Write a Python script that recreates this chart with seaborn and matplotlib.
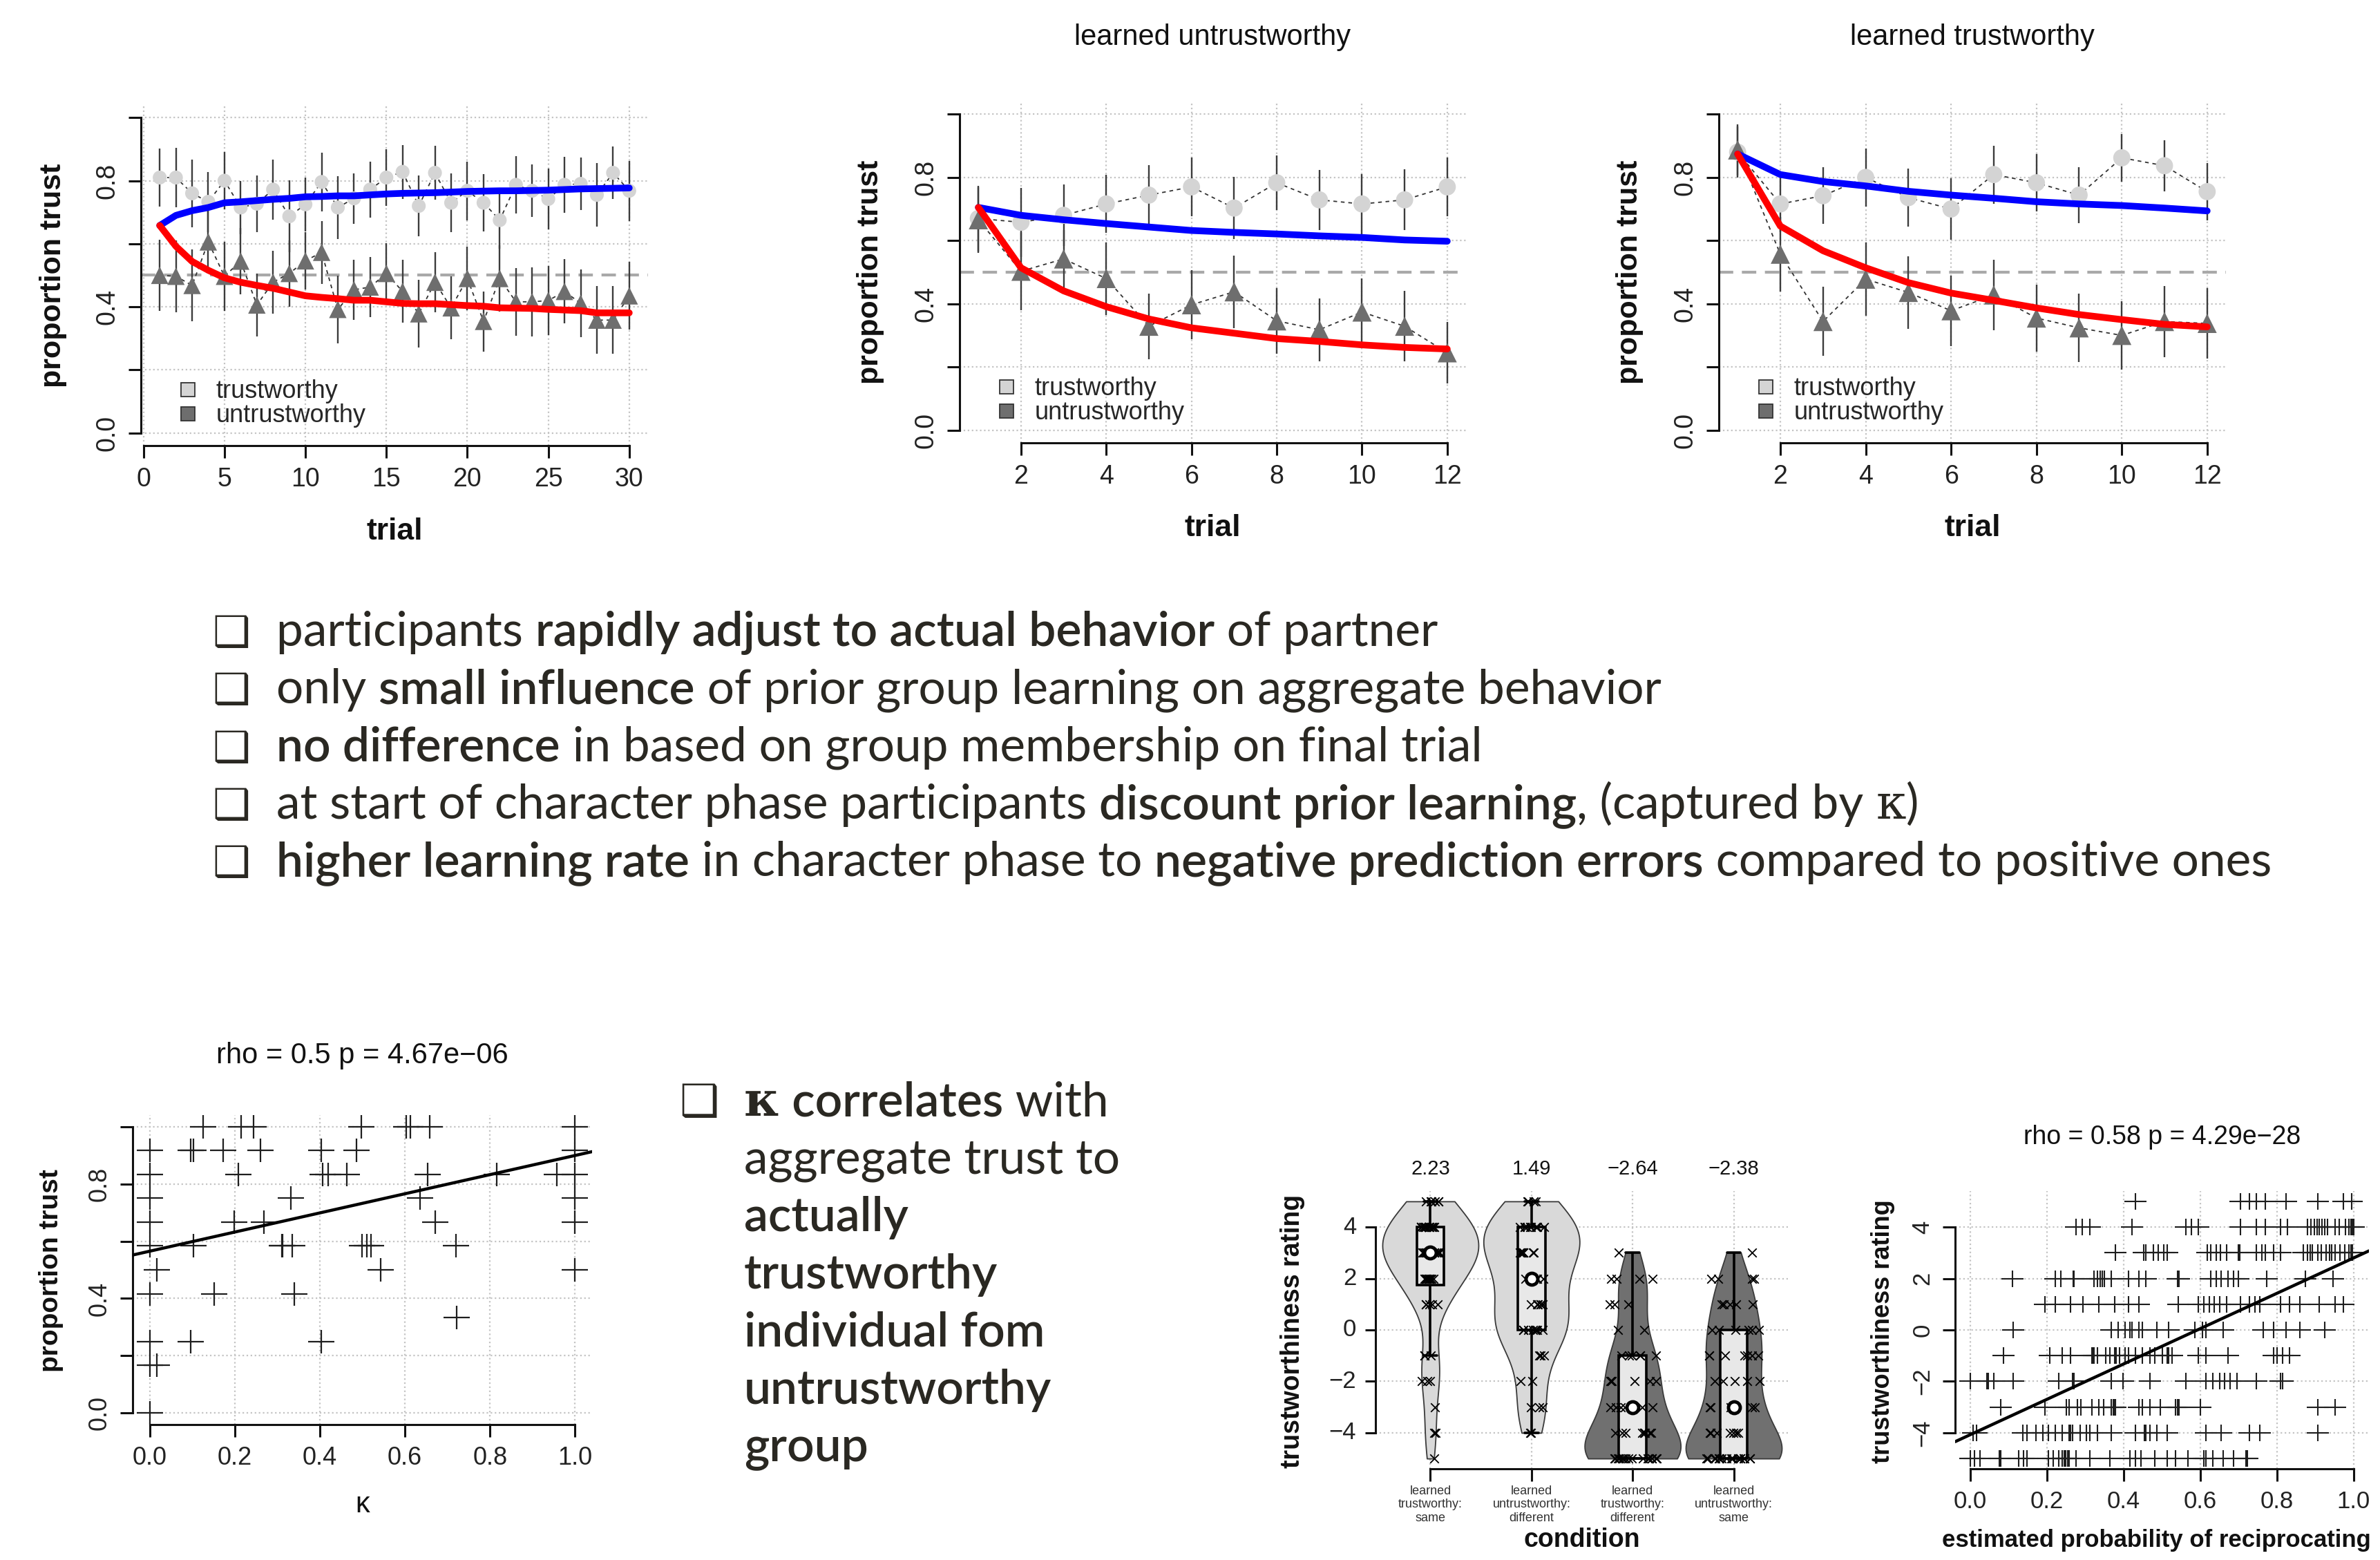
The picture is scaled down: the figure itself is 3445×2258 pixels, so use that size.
import numpy as np
import pandas as pd
import matplotlib
matplotlib.use("Agg")
import matplotlib.pyplot as plt
import matplotlib.transforms as mtransforms
from matplotlib.lines import Line2D
from matplotlib.path import Path
import seaborn as sns

# ---------------- data ----------------
# character phase, all 30 trials
trials_30 = list(range(1, 31))
trust_30 = [0.81, 0.81, 0.76, 0.733, 0.80, 0.715, 0.727, 0.772, 0.687, 0.725,
            0.796, 0.715, 0.744, 0.772, 0.81, 0.828, 0.72, 0.825, 0.73, 0.768,
            0.73, 0.675, 0.787, 0.768, 0.742, 0.787, 0.79, 0.755, 0.825, 0.768]
trust_30_err = [0.092, 0.095, 0.107, 0.095, 0.09, 0.085, 0.09, 0.095, 0.114, 0.085,
                0.093, 0.1, 0.08, 0.088, 0.09, 0.085, 0.097, 0.085, 0.093, 0.093,
                0.09, 0.09, 0.09, 0.083, 0.097, 0.088, 0.083, 0.1, 0.083, 0.095]
untrust_30 = [0.50, 0.497, 0.468, 0.606, 0.497, 0.545, 0.406, 0.478, 0.506, 0.546,
              0.573, 0.392, 0.454, 0.463, 0.506, 0.449, 0.378, 0.478, 0.397, 0.49,
              0.354, 0.49, 0.416, 0.416, 0.42, 0.449, 0.411, 0.358, 0.358, 0.435]
untrust_30_err = [0.112, 0.114, 0.114, 0.1, 0.11, 0.105, 0.1, 0.1, 0.105, 0.09,
                  0.1, 0.107, 0.095, 0.095, 0.095, 0.1, 0.107, 0.095, 0.1, 0.1,
                  0.095, 0.105, 0.107, 0.11, 0.11, 0.102, 0.107, 0.107, 0.107, 0.107]
model_trust_30 = [0.658, 0.69, 0.705, 0.715, 0.73, 0.733, 0.737, 0.741, 0.744, 0.749,
                  0.75, 0.752, 0.752, 0.755, 0.758, 0.76, 0.761, 0.762, 0.764, 0.766,
                  0.767, 0.768, 0.768, 0.769, 0.77, 0.772, 0.774, 0.775, 0.776, 0.777]
model_untrust_30 = [0.658, 0.592, 0.544, 0.516, 0.492, 0.478, 0.468, 0.459, 0.447, 0.435,
                    0.43, 0.426, 0.421, 0.421, 0.416, 0.411, 0.41, 0.41, 0.407, 0.404,
                    0.402, 0.397, 0.396, 0.395, 0.392, 0.39, 0.388, 0.381, 0.381, 0.381]

# 12 trials after learning the group
trials_12 = list(range(1, 13))
lu_trust = [0.67, 0.658, 0.68, 0.716, 0.744, 0.77, 0.703, 0.783, 0.729, 0.716, 0.729, 0.77]
lu_trust_err = [0.104, 0.109, 0.098, 0.092, 0.095, 0.092, 0.098, 0.087, 0.095, 0.095, 0.096, 0.092]
lu_untrust = [0.666, 0.503, 0.542, 0.48, 0.329, 0.397, 0.438, 0.346, 0.318, 0.374, 0.329, 0.245]
lu_untrust_err = [0.104, 0.123, 0.092, 0.115, 0.104, 0.109, 0.115, 0.104, 0.1, 0.106, 0.112, 0.098]
lu_model_trust = [0.705, 0.68, 0.666, 0.654, 0.643, 0.632, 0.626, 0.621, 0.615, 0.61, 0.602, 0.598]
lu_model_untrust = [0.705, 0.514, 0.441, 0.391, 0.352, 0.324, 0.307, 0.29, 0.281, 0.27, 0.262, 0.257]

lt_trust = [0.88, 0.716, 0.742, 0.80, 0.736, 0.70, 0.809, 0.783, 0.744, 0.862, 0.837, 0.755]
lt_trust_err = [0.081, 0.09, 0.09, 0.092, 0.092, 0.098, 0.092, 0.09, 0.088, 0.076, 0.081, 0.09]
lt_untrust = [0.887, 0.557, 0.344, 0.478, 0.436, 0.378, 0.428, 0.355, 0.324, 0.30, 0.344, 0.338]
lt_untrust_err = [0.081, 0.118, 0.109, 0.115, 0.115, 0.112, 0.112, 0.106, 0.109, 0.109, 0.112, 0.112]
lt_model_trust = [0.874, 0.809, 0.787, 0.773, 0.756, 0.744, 0.734, 0.723, 0.716, 0.711, 0.703, 0.694]
lt_model_untrust = [0.874, 0.646, 0.568, 0.514, 0.467, 0.434, 0.411, 0.387, 0.366, 0.35, 0.335, 0.327]

# kappa vs proportion trust (12 trials -> twelfths)
kappa_at_12 = [0.126, 0.215, 0.245, 0.497, 0.603, 0.613, 0.659, 1.0]
kappa_at_11 = [0.0, 0.096, 0.103, 0.173, 0.26, 0.404, 0.487, 1.0]
kappa_at_10 = [0.0, 0.209, 0.406, 0.419, 0.464, 0.654, 0.816, 0.957, 1.0]
kappa_at_9 = [0.0, 0.332, 0.636, 1.0]
kappa_at_8 = [0.0, 0.199, 0.268, 0.672, 1.0]
kappa_at_7 = [0.0, 0.103, 0.31, 0.313, 0.335, 0.499, 0.511, 0.521, 0.72]
kappa_at_6 = [0.017, 0.543, 1.0]
kappa_at_5 = [0.0, 0.151, 0.34]
kappa_at_4 = [0.722]
kappa_at_3 = [0.0, 0.096, 0.404]
kappa_at_2 = [0.0, 0.017]
kappa_at_0 = [0.0]
kappa_fit = (0.565, 0.334)          # intercept, slope
kappa_title = "rho = 0.5 p = 4.67e\u221206"

# trustworthiness ratings per condition
rating_levels = [5, 4, 3, 2, 1, 0, -1, -2, -3, -4, -5]
conditions = ["learned\ntrustworthy:\nsame", "learned\nuntrustworthy:\ndifferent",
              "learned\ntrustworthy:\ndifferent", "learned\nuntrustworthy:\nsame"]
counts_lt_same = [6, 14, 16, 9, 5, 0, 3, 3, 1, 2, 1]
counts_lu_diff = [4, 10, 9, 5, 6, 8, 3, 2, 3, 2, 0]
counts_lt_diff = [0, 0, 1, 4, 3, 2, 6, 6, 6, 9, 16]
counts_lu_same = [0, 0, 1, 4, 5, 6, 7, 5, 7, 8, 18]
rating_means = ["2.23", "1.49", "\u22122.64", "\u22122.38"]

# rating vs estimated probability of reciprocating
est_prob_r5 = [0.431, 0.705, 0.728, 0.746, 0.769, 0.824, 0.906, 0.974, 0.995]
est_prob_r4 = [0.276, 0.292, 0.312, 0.422, 0.563, 0.577, 0.595, 0.705, 0.746, 0.769, 0.81, 0.828,
               0.879, 0.889, 0.897, 0.904, 0.911, 0.917, 0.924, 0.932, 0.952, 0.963, 0.979, 0.988,
               0.993, 0.997, 1.0]
est_prob_r3 = [0.378, 0.452, 0.458, 0.477, 0.49, 0.504, 0.513, 0.618, 0.627, 0.641, 0.652, 0.668,
               0.70, 0.703, 0.746, 0.76, 0.769, 0.792, 0.81, 0.869, 0.879, 0.886, 0.892, 0.906,
               0.915, 0.929, 0.938, 0.942, 0.952, 0.965, 0.977, 0.988, 0.993, 0.997]
est_prob_r2 = [0.11, 0.221, 0.235, 0.269, 0.271, 0.323, 0.331, 0.338, 0.344, 0.349, 0.367, 0.413,
               0.44, 0.458, 0.541, 0.545, 0.627, 0.641, 0.655, 0.673, 0.687, 0.70, 0.774, 0.874, 0.947]
est_prob_r1 = [0.194, 0.221, 0.262, 0.294, 0.335, 0.376, 0.413, 0.44, 0.543, 0.595, 0.609, 0.623,
               0.637, 0.65, 0.668, 0.705, 0.728, 0.742, 0.755, 0.81, 0.833, 0.86, 0.911, 0.952, 0.974]
est_prob_r0 = [0.111, 0.367, 0.385, 0.404, 0.417, 0.422, 0.44, 0.449, 0.486, 0.518, 0.586, 0.605,
               0.614, 0.659, 0.764, 0.792, 0.824, 0.86, 0.924]
est_prob_rm1 = [0.087, 0.207, 0.239, 0.262, 0.317, 0.32, 0.323, 0.331, 0.353, 0.363, 0.376, 0.381,
                0.39, 0.404, 0.413, 0.431, 0.449, 0.468, 0.481, 0.50, 0.513, 0.518, 0.527, 0.595,
                0.614, 0.673, 0.792, 0.801, 0.815, 0.833]
est_prob_rm2 = [0.0, 0.043, 0.047, 0.061, 0.111, 0.23, 0.267, 0.271, 0.367, 0.399, 0.468, 0.563,
                0.614, 0.632, 0.65, 0.664, 0.678, 0.696, 0.746, 0.81, 0.815]
est_prob_rm3 = [0.079, 0.194, 0.25, 0.258, 0.28, 0.289, 0.317, 0.335, 0.347, 0.367, 0.372, 0.374,
                0.378, 0.44, 0.449, 0.468, 0.495, 0.536, 0.541, 0.545, 0.60, 0.906, 0.952]
est_prob_rm4 = [0.006, 0.016, 0.137, 0.148, 0.171, 0.189, 0.203, 0.221, 0.239, 0.258, 0.262, 0.267,
                0.287, 0.303, 0.312, 0.331, 0.367, 0.431, 0.454, 0.458, 0.468, 0.486, 0.513, 0.614,
                0.655, 0.728, 0.755, 0.906]
est_prob_rm5 = [0.0, 0.011, 0.025, 0.075, 0.079, 0.125, 0.139, 0.148, 0.203, 0.216, 0.23, 0.239,
                0.244, 0.248, 0.253, 0.258, 0.276, 0.312, 0.363, 0.417, 0.431, 0.445, 0.481, 0.513,
                0.536, 0.568, 0.609, 0.614, 0.632, 0.659, 0.687, 0.719, 0.723]
prob_fit = (-4.07, 6.87)
prob_title = "rho = 0.58 p = 4.29e\u221228"

# slide text
bullets_top = [
    [("participants ", "light"), ("rapidly adjust to actual behavior", "bold"), (" of partner", "light")],
    [("only ", "light"), ("small influence", "bold"), (" of prior group learning on aggregate behavior", "light")],
    [("no difference", "bold"), (" in based on group membership on final trial", "light")],
    [("at start of character phase participants ", "light"), ("discount prior learning", "bold"),
     (", (captured by ", "light"), ("\u03ba", "serif"), (")", "light")],
    [("higher learning rate", "bold"), (" in character phase to ", "light"),
     ("negative prediction errors", "bold"), (" compared to positive ones", "light")],
]
bullet_right = [
    [("\u03ba", "serifbold"), (" correlates", "bold"), (" with", "light")],
    [("aggregate trust to", "light")],
    [("actually", "bold")],
    [("trustworthy", "bold")],
    [("individual fom", "bold")],
    [("untrustworthy", "bold")],
    [("group", "bold")],
]

# ---------------- style ----------------
sns.set_style("white")
plt.rcParams["font.family"] = ["Liberation Sans", "DejaVu Sans"]
plt.rcParams["axes.unicode_minus"] = True

LIGHT = "#d4d4d4"
DARK = "#6e6e6e"
INK = "#2a2822"
W, H = 3445, 2258

fig = plt.figure(figsize=(W / 100, H / 100), dpi=100)
fig.patch.set_facecolor("white")
renderer = fig.canvas.get_renderer()


def add_ax(x0, y0, x1, y1):
    return fig.add_axes([x0 / W, 1 - y1 / H, (x1 - x0) / W, (y1 - y0) / H])


def r_axes(ax, xlim, ylim, xticks, xlabels, yticks, ylabels, xbounds, ybounds, rot_y, size):
    ax.set_xlim(xlim)
    ax.set_ylim(ylim)
    ax.set_xticks(xticks)
    ax.set_xticklabels(xlabels)
    ax.set_yticks(yticks)
    ax.set_yticklabels(ylabels, rotation=90 if rot_y else 0, va="center")
    for side in ("top", "right"):
        ax.spines[side].set_visible(False)
    ax.spines["left"].set_bounds(*ybounds)
    ax.spines["bottom"].set_bounds(*xbounds)
    for side in ("left", "bottom"):
        ax.spines[side].set_linewidth(2.2)
        ax.spines[side].set_color("#111111")
    ax.tick_params(bottom=True, left=True, length=13, width=2.2, color="#111111",
                   labelsize=size, labelcolor="#222222", pad=9)
    ax.grid(True, ls=":", lw=1.6, color="#c4c4c4")
    ax.set_axisbelow(True)


def labels(ax, xlabel, ylabel, xpos, ypos, xsize, ysize, xbold=True):
    ax.set_xlabel(xlabel, fontsize=xsize, fontweight="bold" if xbold else "normal", color="#111111")
    ax.set_ylabel(ylabel, fontsize=ysize, fontweight="bold", color="#111111")
    ax.xaxis.set_label_coords(xpos[0], xpos[1])
    ax.yaxis.set_label_coords(ypos[0], ypos[1])
    ax.xaxis.label.set_va("center")
    ax.yaxis.label.set_va("center")


def trial_panel(ax, trials, trust, trust_err, untrust, untrust_err, m_trust, m_untrust,
                circle_s, tri_s):
    ax.axhline(0.5, color="#a9a9a9", lw=3, ls=(0, (5, 3)), zorder=1.5)
    ax.errorbar(trials, trust, yerr=trust_err, fmt="none", ecolor="#3c3c3c", elinewidth=1.7, zorder=2)
    ax.errorbar(trials, untrust, yerr=untrust_err, fmt="none", ecolor="#3c3c3c", elinewidth=1.7, zorder=2)
    sns.lineplot(x=trials, y=trust, ax=ax, color="#333333", lw=1.3, linestyle=(0, (3, 3)), zorder=2.5)
    sns.lineplot(x=trials, y=untrust, ax=ax, color="#333333", lw=1.3, linestyle=(0, (3, 3)), zorder=2.5)
    sns.scatterplot(x=trials, y=trust, ax=ax, marker="o", s=circle_s, color=LIGHT,
                    edgecolor="none", zorder=3)
    sns.scatterplot(x=trials, y=untrust, ax=ax, marker="^", s=tri_s, color=DARK,
                    edgecolor="none", zorder=3)
    sns.lineplot(x=trials, y=m_trust, ax=ax, color="#0000ff", lw=7, zorder=4)
    sns.lineplot(x=trials, y=m_untrust, ax=ax, color="#ff0000", lw=7, zorder=4)
    handles = [Line2D([], [], ls="none", marker="s", ms=14, mfc=LIGHT, mec="#333333", mew=1.3),
               Line2D([], [], ls="none", marker="s", ms=14, mfc=DARK, mec="#333333", mew=1.3)]
    ax.legend(handles, ["trustworthy", "untrustworthy"], loc="center left",
              bbox_to_anchor=(0.079, 0.123), frameon=False, fontsize=26, handlelength=0.55,
              handletextpad=0.85, labelspacing=0.0, borderpad=0, borderaxespad=0)


trust_ticks = [0, 0.2, 0.4, 0.6, 0.8, 1.0]
trust_ticklabels = ["0.0", "", "0.4", "", "0.8", ""]

# ---- panel 1: all trials
ax1 = add_ax(204, 152, 938, 645)
trial_panel(ax1, trials_30, trust_30, trust_30_err, untrust_30, untrust_30_err,
            model_trust_30, model_untrust_30, 210, 330)
r_axes(ax1, (-0.16, 31.16), (-0.04, 1.04), list(range(0, 31, 5)), [str(v) for v in range(0, 31, 5)],
       trust_ticks, trust_ticklabels, (0, 30), (0, 1), True, 27)
labels(ax1, "trial", "proportion trust", (0.5, -0.253), (-0.173, 0.5), 32, 31)

# ---- panel 2 / 3: learned groups
for x0, x1, title, series in [
    (1389, 2122, "learned untrustworthy",
     (lu_trust, lu_trust_err, lu_untrust, lu_untrust_err, lu_model_trust, lu_model_untrust)),
    (2488, 3222, "learned trustworthy",
     (lt_trust, lt_trust_err, lt_untrust, lt_untrust_err, lt_model_trust, lt_model_untrust)),
]:
    ax = add_ax(x0, 147, x1, 641)
    trial_panel(ax, trials_12, *series, 320, 400)
    r_axes(ax, (0.56, 12.44), (-0.04, 1.04), list(range(2, 13, 2)), [str(v) for v in range(2, 13, 2)],
           trust_ticks, trust_ticklabels, (2, 12), (0, 1), True, 27)
    labels(ax, "trial", "proportion trust", (0.5, -0.251), (-0.176, 0.5), 32, 31)
    ax.text(0.5, 1.188, title, transform=ax.transAxes, ha="center", va="center",
            fontsize=30, color="#111111")


def plus_marker(aspect):
    return Path([(-1, 0), (1, 0), (0, -aspect), (0, aspect)],
                [Path.MOVETO, Path.LINETO, Path.MOVETO, Path.LINETO])


# ---- panel 4: kappa vs proportion trust
kappa_rows = [(12, kappa_at_12), (11, kappa_at_11), (10, kappa_at_10), (9, kappa_at_9),
              (8, kappa_at_8), (7, kappa_at_7), (6, kappa_at_6), (5, kappa_at_5),
              (4, kappa_at_4), (3, kappa_at_3), (2, kappa_at_2), (0, kappa_at_0)]
kappa_df = pd.concat([pd.DataFrame({"kappa": ks, "trust": k / 12}) for k, ks in kappa_rows])

ax4 = add_ax(192, 1614, 857, 2062)
sns.scatterplot(data=kappa_df, x="kappa", y="trust", ax=ax4, marker=plus_marker(0.9), s=740,
                color="#1e1e1e", edgecolor="#1e1e1e", linewidth=1.6, zorder=3)
ax4.axline((0, kappa_fit[0]), slope=kappa_fit[1], color="black", lw=3.2, zorder=4)
r_axes(ax4, (-0.04, 1.04), (-0.04, 1.04), [0, 0.2, 0.4, 0.6, 0.8, 1.0],
       ["0.0", "0.2", "0.4", "0.6", "0.8", "1.0"], trust_ticks, trust_ticklabels,
       (0, 1), (0, 1), True, 26)
labels(ax4, "\u03ba", "proportion trust", (0.5, -0.259), (-0.178, 0.498), 30, 28, xbold=False)
ax4.text(0.5, 1.192, kappa_title, transform=ax4.transAxes, ha="center", va="center",
         fontsize=30, color="#111111")

# ---- panel 5: violins of ratings
count_sets = [counts_lt_same, counts_lu_diff, counts_lt_diff, counts_lu_same]
rating_df = pd.concat([
    pd.DataFrame({"condition": cond, "rating": np.repeat(rating_levels, cnt)})
    for cond, cnt in zip(conditions, count_sets)
])
rating_df["condition"] = pd.Categorical(rating_df["condition"], categories=conditions, ordered=True)

ax5 = add_ax(1991, 1724, 2590, 2126)
sns.violinplot(data=rating_df, x="condition", y="rating", hue="condition",
               palette=["#d9d9d9", "#d9d9d9", "#707070", "#707070"], legend=False, cut=0,
               inner=None, density_norm="area", width=0.95, bw_adjust=0.85, linewidth=1.3,
               linecolor="#3a3a3a", saturation=1, ax=ax5)
sns.boxplot(data=rating_df, x="condition", y="rating", width=0.27, color="#e8e8e8",
            linecolor="black", linewidth=2.6, showfliers=False, saturation=1,
            medianprops=dict(visible=False), ax=ax5)
np.random.seed(3)
for cond, jit in zip(conditions, [0.1, 0.13, 0.25, 0.27]):
    sns.stripplot(data=rating_df[rating_df["condition"] == cond], x="condition", y="rating",
                  order=conditions, color="black", marker="x", size=9, linewidth=1.3,
                  jitter=jit, ax=ax5, zorder=5)
medians = rating_df.groupby("condition", observed=True)["rating"].median()
ax5.scatter(range(len(medians)), medians.values, s=150, facecolor="white", edgecolor="black",
            linewidth=3.5, zorder=6)
r_axes(ax5, (-0.543, 3.55), (-5.4, 5.4), [0, 1, 2, 3], conditions, [-4, -2, 0, 2, 4],
       ["\u22124", "\u22122", "0", "2", "4"], (0, 3), (-4, 4), False, 25)
ax5.tick_params(axis="x", labelsize=13, pad=4, labelcolor="#333333")
ax5.tick_params(axis="y", length=11)
labels(ax5, "condition", "trustworthiness rating", (0.499, -0.257), (-0.2, 0.495), 27, 27)
blend = mtransforms.blended_transform_factory(ax5.transData, ax5.transAxes)
for i, txt in enumerate(rating_means):
    ax5.text(i, 1.08, txt, transform=blend, ha="center", va="center", fontsize=21, color="#111111")

# ---- panel 6: rating vs estimated probability
prob_rows = [(5, est_prob_r5), (4, est_prob_r4), (3, est_prob_r3), (2, est_prob_r2),
             (1, est_prob_r1), (0, est_prob_r0), (-1, est_prob_rm1), (-2, est_prob_rm2),
             (-3, est_prob_rm3), (-4, est_prob_rm4), (-5, est_prob_rm5)]
prob_df = pd.concat([pd.DataFrame({"prob": ps, "rating": r}) for r, ps in prob_rows])

ax6 = add_ax(2830, 1724, 3429, 2126)
sns.scatterplot(data=prob_df, x="prob", y="rating", ax=ax6, marker=plus_marker(0.72), s=560,
                color="#1e1e1e", edgecolor="#1e1e1e", linewidth=1.5, zorder=3)
ax6.axline((0, prob_fit[0]), slope=prob_fit[1], color="black", lw=3.2, zorder=4)
r_axes(ax6, (-0.04, 1.04), (-5.4, 5.4), [0, 0.2, 0.4, 0.6, 0.8, 1.0],
       ["0.0", "0.2", "0.4", "0.6", "0.8", "1.0"], [-4, -2, 0, 2, 4],
       ["\u22124", "\u22122", "0", "2", "4"], (0, 1), (-4, 4), True, 25)
labels(ax6, "estimated probability of reciprocating", "trustworthiness rating",
       (0.486, -0.257), (-0.174, 0.495), 25, 26)
ax6.text(0.5, 1.194, prob_title, transform=ax6.transAxes, ha="center", va="center",
         fontsize=27, color="#111111")

# ---------------- slide text ----------------
STYLES = {
    "light": dict(family=["Lato", "DejaVu Sans"], weight="normal"),
    "bold": dict(family=["Lato", "DejaVu Sans"], weight="semibold"),
    "serif": dict(family="DejaVu Serif"),
    "serifbold": dict(family="DejaVu Serif", weight="bold"),
}


def text_width(s, **kw):
    t1 = fig.text(0, 0, "|" + s + "|", **kw)
    t2 = fig.text(0, 0, "||", **kw)
    w = t1.get_window_extent(renderer).width - t2.get_window_extent(renderer).width
    t1.remove()
    t2.remove()
    return w


def draw_runs(x_px, y_px, runs, size):
    x = x_px
    for txt, style in runs:
        kw = dict(fontsize=size, color=INK, **STYLES[style])
        fig.text(x / W, 1 - y_px / H, txt, ha="left", va="baseline", **kw)
        x += text_width(txt, **kw)


def bullet(x_px, y_px, size):
    fig.text(x_px / W, 1 - y_px / H, "\u2751", ha="left", va="baseline", fontsize=size,
             family="DejaVu Sans", color=INK)


for i, runs in enumerate(bullets_top):
    y = 935 + i * 83.3
    bullet(307, y, 44)
    draw_runs(400, y, runs, 50)

bullet(983, 1615, 46)
for i, runs in enumerate(bullet_right):
    draw_runs(1077, 1615 + i * 83.3, runs, 50)

fig.savefig("out.png", dpi=100, facecolor="white")
